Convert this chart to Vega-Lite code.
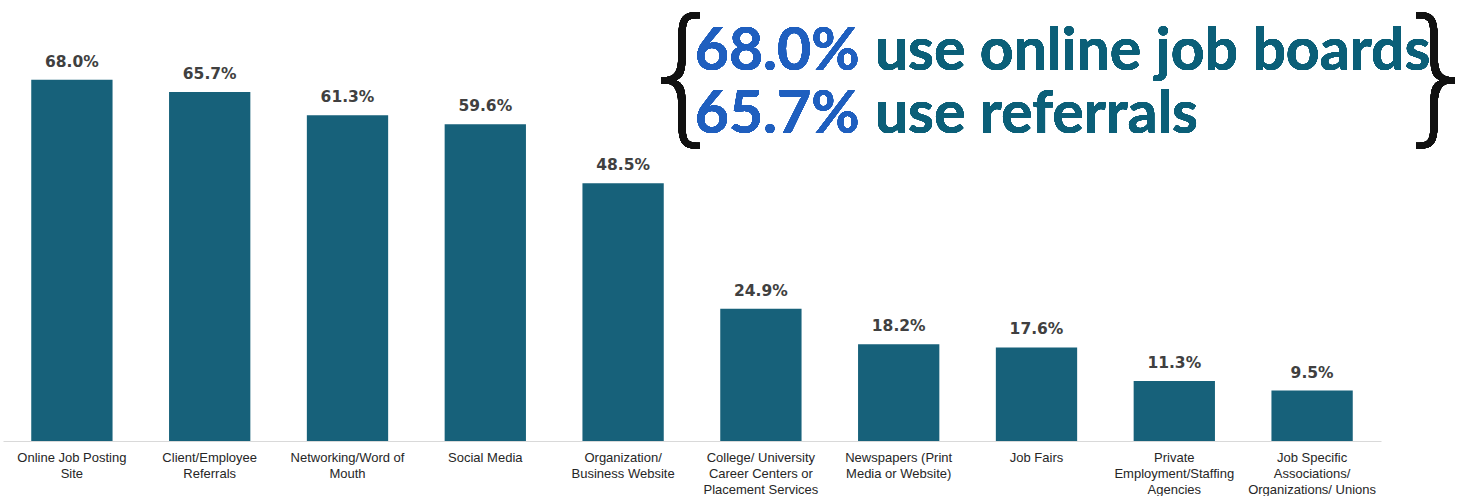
{
  "$schema": "https://vega.github.io/schema/vega-lite/v6.json",
  "width": 1378,
  "height": 441,
  "padding": {"left": 3, "top": 0, "right": 0, "bottom": 0},
  "background": "white",
  "config": {"view": {"stroke": null}},
  "data": {"values": [
    {"source": "Online Job Posting Site", "pct": 68.0},
    {"source": "Client/Employee Referrals", "pct": 65.7},
    {"source": "Networking/Word of Mouth", "pct": 61.3},
    {"source": "Social Media", "pct": 59.6},
    {"source": "Organization/ Business Website", "pct": 48.5},
    {"source": "College/ University Career Centers or Placement Services", "pct": 24.9},
    {"source": "Newspapers (Print Media or Website)", "pct": 18.2},
    {"source": "Job Fairs", "pct": 17.6},
    {"source": "Private Employment/Staffing Agencies", "pct": 11.3},
    {"source": "Job Specific Associations/ Organizations/ Unions", "pct": 9.5}
  ]},
  "encoding": {
    "x": {
      "field": "source", "type": "nominal", "sort": null,
      "scale": {"paddingInner": 0.41, "paddingOuter": 0.205},
      "axis": {
        "title": null, "labelAngle": 0, "ticks": false,
        "domainColor": "#d9d9d9", "domainWidth": 1,
        "labelFont": "Liberation Sans Narrow, Liberation Sans, sans-serif",
        "labelFontSize": 13, "labelColor": "#262626", "labelPadding": 10,
        "labelLineHeight": 16, "labelLimit": 200,
        "labelExpr": "({'Online Job Posting Site': ['Online Job Posting','Site'], 'Client/Employee Referrals': ['Client/Employee','Referrals'], 'Networking/Word of Mouth': ['Networking/Word of','Mouth'], 'Social Media': 'Social Media', 'Organization/ Business Website': ['Organization/','Business Website'], 'College/ University Career Centers or Placement Services': ['College/ University','Career Centers or','Placement Services'], 'Newspapers (Print Media or Website)': ['Newspapers (Print','Media or Website)'], 'Job Fairs': 'Job Fairs', 'Private Employment/Staffing Agencies': ['Private','Employment/Staffing','Agencies'], 'Job Specific Associations/ Organizations/ Unions': ['Job Specific','Associations/','Organizations/ Unions']})[datum.value]"
      }
    },
    "y": {"field": "pct", "type": "quantitative", "scale": {"domain": [0, 83]}, "axis": null}
  },
  "layer": [
    {"mark": {"type": "bar", "color": "#17617a"}},
    {
      "transform": [{"calculate": "format(datum.pct, '.1f') + '%'", "as": "label"}],
      "mark": {"type": "text", "baseline": "bottom", "dy": -10, "font": "DejaVu Sans", "fontWeight": "bold", "fontSize": 15.5, "color": "#404040"},
      "encoding": {"text": {"field": "label", "type": "nominal"}}
    },
    {
      "mark": {"type": "text", "align": "right", "baseline": "alphabetic", "dx": -39, "font": "Lato, Open Sans, sans-serif", "fontWeight": "bold", "fontSize": 59, "color": "#1f5fbf"},
      "encoding": {"x": {"datum": "Newspapers (Print Media or Website)"}, "y": {"datum": 69.8}, "text": {"value": "68.0%"}}
    },
    {
      "mark": {"type": "text", "align": "left", "baseline": "alphabetic", "dx": -24, "font": "Lato, Open Sans, sans-serif", "fontWeight": "bold", "fontSize": 59, "color": "#0b5f78"},
      "encoding": {"x": {"datum": "Newspapers (Print Media or Website)"}, "y": {"datum": 69.8}, "text": {"value": "use online job boards"}}
    },
    {
      "mark": {"type": "text", "align": "right", "baseline": "alphabetic", "dx": -39, "font": "Lato, Open Sans, sans-serif", "fontWeight": "bold", "fontSize": 59, "color": "#1f5fbf"},
      "encoding": {"x": {"datum": "Newspapers (Print Media or Website)"}, "y": {"datum": 58.0}, "text": {"value": "65.7%"}}
    },
    {
      "mark": {"type": "text", "align": "left", "baseline": "alphabetic", "dx": -24, "font": "Lato, Open Sans, sans-serif", "fontWeight": "bold", "fontSize": 59, "color": "#0b5f78"},
      "encoding": {"x": {"datum": "Newspapers (Print Media or Website)"}, "y": {"datum": 58.0}, "text": {"value": "use referrals"}}
    },
    {
      "mark": {"type": "text", "align": "center", "baseline": "middle", "dx": 60, "font": "DejaVu Sans", "fontWeight": 200, "fontSize": 148, "color": "#111111"},
      "encoding": {"x": {"datum": "Organization/ Business Website"}, "y": {"datum": 67.8}, "text": {"value": "{"}}
    },
    {
      "mark": {"type": "text", "align": "center", "baseline": "middle", "dx": 126, "font": "DejaVu Sans", "fontWeight": 200, "fontSize": 148, "color": "#111111"},
      "encoding": {"x": {"datum": "Job Specific Associations/ Organizations/ Unions"}, "y": {"datum": 67.8}, "text": {"value": "}"}}
    }
  ]
}
